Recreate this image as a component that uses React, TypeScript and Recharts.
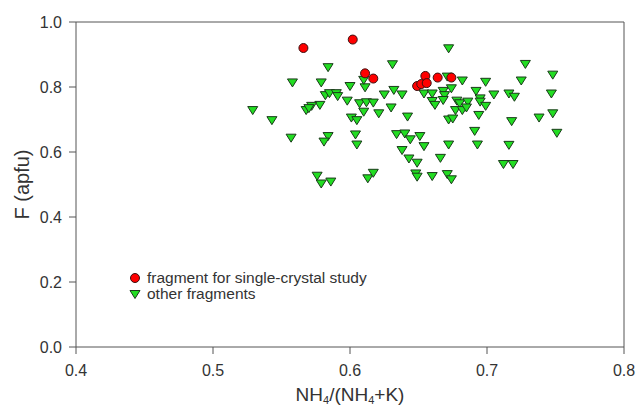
import {
  ScatterChart, Scatter, XAxis, YAxis, ReferenceLine, Label,
} from "recharts"

// fragment for single-crystal study
const redX = [0.566, 0.602, 0.611, 0.617, 0.649, 0.652, 0.655, 0.656, 0.664, 0.674]
const redY = [0.920, 0.946, 0.842, 0.826, 0.803, 0.809, 0.834, 0.812, 0.829, 0.829]

// other fragments
const greenX = [
  0.584, 0.558, 0.579, 0.600, 0.611, 0.610, 0.582, 0.585, 0.590, 0.591,
  0.598, 0.607, 0.612, 0.617, 0.578, 0.572, 0.568, 0.570, 0.529, 0.543,
  0.610, 0.601, 0.605, 0.557, 0.584, 0.581, 0.604, 0.605, 0.576, 0.579,
  0.586, 0.613, 0.672, 0.631, 0.682, 0.699, 0.654, 0.660, 0.668, 0.674,
  0.669, 0.625, 0.632, 0.638, 0.692, 0.621, 0.630, 0.660, 0.662, 0.668,
  0.678, 0.680, 0.686, 0.677, 0.682, 0.685, 0.695, 0.695, 0.699, 0.694,
  0.642, 0.672, 0.675, 0.634, 0.640, 0.644, 0.651, 0.654, 0.672, 0.691,
  0.693, 0.638, 0.643, 0.649, 0.666, 0.617, 0.648, 0.649, 0.660, 0.671,
  0.674, 0.728, 0.748, 0.725, 0.705, 0.716, 0.720, 0.747, 0.748, 0.738,
  0.718, 0.751, 0.716, 0.712, 0.719, 0.671,
]
const greenY = [
  0.861, 0.814, 0.814, 0.803, 0.799, 0.822, 0.775, 0.781, 0.781, 0.772,
  0.758, 0.750, 0.753, 0.752, 0.745, 0.742, 0.729, 0.735, 0.729, 0.698,
  0.724, 0.706, 0.698, 0.644, 0.649, 0.632, 0.654, 0.623, 0.527, 0.503,
  0.509, 0.519, 0.919, 0.870, 0.820, 0.816, 0.780, 0.780, 0.788, 0.796,
  0.775, 0.777, 0.791, 0.777, 0.788, 0.719, 0.737, 0.757, 0.745, 0.760,
  0.758, 0.750, 0.755, 0.729, 0.729, 0.737, 0.765, 0.755, 0.742, 0.714,
  0.709, 0.700, 0.703, 0.655, 0.657, 0.639, 0.649, 0.618, 0.623, 0.665,
  0.623, 0.606, 0.580, 0.567, 0.582, 0.536, 0.534, 0.524, 0.526, 0.532,
  0.516, 0.871, 0.838, 0.820, 0.777, 0.780, 0.770, 0.780, 0.719, 0.706,
  0.695, 0.659, 0.622, 0.563, 0.563, 0.832,
]

const xTicks = [0.4, 0.5, 0.6, 0.7, 0.8]
const yTicks = [0, 0.2, 0.4, 0.6, 0.8, 1.0]

const redData = redX.map((x, i) => ({ x, y: redY[i] }))
const greenData = greenX.map((x, i) => ({ x, y: greenY[i] }))

const FONT = "'Liberation Sans', Arial, sans-serif"
const AXIS = "#555"
const TEXT = "#333"

const Circle = (p: any) => (
  <circle cx={p.cx} cy={p.cy} r={4.5} fill="#ff0000" stroke="#3a1010" strokeWidth={1} />
)

const Triangle = (p: any) => {
  const { cx, cy } = p
  return (
    <polygon
      points={`${cx - 5},${cy - 3.5} ${cx + 5},${cy - 3.5} ${cx},${cy + 4.5}`}
      fill="#22dd22"
      stroke="#1a3a1a"
      strokeWidth={1}
    />
  )
}

const LegendBox = () => (
  <div
    style={{
      position: "absolute", left: 129, top: 270,
      fontFamily: FONT, fontSize: 15.5, color: TEXT, lineHeight: "16px",
    }}
  >
    <div style={{ display: "flex", alignItems: "center", height: 16 }}>
      <svg width={14} height={12}><circle cx={6} cy={6} r={4.5} fill="#ff0000" stroke="#3a1010" /></svg>
      <span style={{ marginLeft: 4 }}>fragment for single-crystal study</span>
    </div>
    <div style={{ display: "flex", alignItems: "center", height: 16 }}>
      <svg width={14} height={12}><polygon points="1,2.5 11,2.5 6,10.5" fill="#22dd22" stroke="#1a3a1a" /></svg>
      <span style={{ marginLeft: 4 }}>other fragments</span>
    </div>
  </div>
)

const XTitle = (props: any) => {
  const { viewBox } = props
  const cx = viewBox.x + viewBox.width / 2
  const y = viewBox.y + 54
  return (
    <text x={cx} y={y} textAnchor="middle" fontFamily={FONT} fontSize={19} fill={TEXT}>
      <tspan>NH</tspan>
      <tspan fontSize={11} dy={3}>4</tspan>
      <tspan dy={-3}>/(NH</tspan>
      <tspan fontSize={11} dy={3}>4</tspan>
      <tspan dy={-3}>+K)</tspan>
    </text>
  )
}

export default function App() {
  return (
    <div style={{ position: "absolute", left: 0, top: 0, background: "#fff" }}>
      <ScatterChart width={636} height={408} margin={{ top: 22, right: 12, bottom: 0, left: 0 }}>
        <XAxis
          type="number"
          dataKey="x"
          domain={[0.4, 0.8]}
          ticks={xTicks}
          tickFormatter={(v: number) => v.toFixed(1)}
          height={61}
          tickSize={7}
          tickMargin={11}
          stroke={AXIS}
          tick={{ fill: TEXT, fontSize: 16, fontFamily: FONT }}
          allowDataOverflow
        >
          <Label content={<XTitle />} />
        </XAxis>
        <YAxis
          type="number"
          dataKey="y"
          domain={[0, 1]}
          ticks={yTicks}
          tickFormatter={(v: number) => v.toFixed(1)}
          width={76}
          tickSize={7}
          tickMargin={7}
          stroke={AXIS}
          tick={{ fill: TEXT, fontSize: 16, fontFamily: FONT }}
          allowDataOverflow
        >
          <Label
            value="F (apfu)"
            angle={-90}
            position="insideLeft"
            offset={22}
            style={{ fill: TEXT, fontSize: 20, fontFamily: FONT, textAnchor: "middle" }}
          />
        </YAxis>
        <ReferenceLine y={1} stroke={AXIS} />
        <ReferenceLine x={0.8} stroke={AXIS} />
        <Scatter name="other fragments" data={greenData} shape={Triangle} isAnimationActive={false} />
        <Scatter name="fragment for single-crystal study" data={redData} shape={Circle} isAnimationActive={false} />
      </ScatterChart>
      <LegendBox />
    </div>
  )
}
